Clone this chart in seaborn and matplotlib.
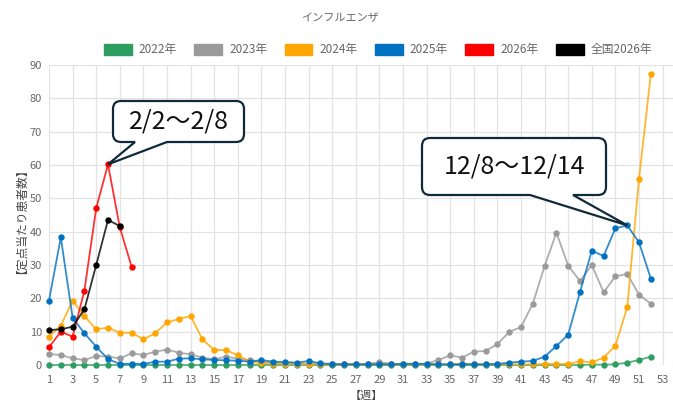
import matplotlib
matplotlib.use("Agg")
import matplotlib.pyplot as plt
import seaborn as sns
import pandas as pd
from matplotlib.path import Path
from matplotlib.patches import PathPatch, Patch
from matplotlib.colors import to_rgb

# ---------------- data ----------------
series_names = ["2022年", "2023年", "2024年", "2025年", "2026年", "全国2026年"]
series_colors = ["#2e9e60", "#9a9a9a", "#ffa500", "#0070c0", "#ff0000", "#000000"]

weeks52 = list(range(1, 53))
v2022 = [0.0] * 46 + [0.1, 0.1, 0.2, 0.7, 1.5, 2.5]
v2023 = [3.3, 3.0, 2.0, 1.5, 2.7, 2.5, 2.0, 3.5, 3.0, 4.0,
         4.6, 3.7, 3.2, 2.2, 1.7, 2.5, 1.9, 1.5, 1.0, 0.6,
         0.4, 0.3, 0.3, 0.3, 0.2, 0.2, 0.3, 0.3, 0.8, 0.4,
         0.3, 0.3, 0.4, 1.5, 2.9, 2.2, 4.0, 4.2, 6.3, 9.9,
         11.4, 18.4, 29.7, 39.7, 29.8, 25.2, 30.0, 21.8, 26.6, 27.3,
         21.1, 18.4]
v2024 = [8.5, 11.8, 19.3, 14.7, 10.7, 11.2, 9.7, 9.7, 7.7, 9.5,
         12.8, 13.8, 14.7, 7.7, 4.5, 4.5, 2.9, 1.0, 0.5, 0.4,
         0.4, 0.4, 0.3, 0.2, 0.2, 0.2, 0.2, 0.2, 0.2, 0.2,
         0.2, 0.2, 0.2, 0.2, 0.3, 0.4, 0.3, 0.2, 0.2, 0.2,
         0.2, 0.2, 0.3, 0.3, 0.3, 1.1, 0.8, 2.2, 5.8, 17.3,
         55.8, 87.3]
v2025 = [19.3, 38.3, 14.2, 9.5, 5.5, 1.8, 0.3, 0.4, 0.3, 1.0,
         1.0, 1.9, 2.0, 1.7, 1.5, 1.4, 1.3, 1.0, 1.5, 1.0,
         0.9, 0.7, 1.2, 0.5, 0.3, 0.2, 0.2, 0.2, 0.2, 0.2,
         0.3, 0.4, 0.3, 0.2, 0.2, 0.2, 0.2, 0.2, 0.3, 0.7,
         1.0, 1.2, 2.5, 5.7, 9.1, 21.9, 34.3, 32.7, 41.0, 41.9,
         36.8, 25.9]
weeks2026 = list(range(1, 9))
v2026 = [5.3, 10.0, 8.5, 22.3, 47.0, 60.2, 41.3, 29.5]
weeks_nat = list(range(1, 8))
v_nat = [10.5, 10.7, 11.5, 16.7, 30.0, 43.5, 41.7]

x_ticks = list(range(1, 54, 2))
y_ticks = list(range(0, 91, 10))

callout1_text = "2/2〜2/8"
callout1_week, callout1_series = 6, v2026
callout2_text = "12/8〜12/14"
callout2_week, callout2_series = 50, v2025

# ---------------- frame ----------------
frames = []
for name, wk, vals in [
    ("2022年", weeks52, v2022), ("2023年", weeks52, v2023),
    ("2024年", weeks52, v2024), ("2025年", weeks52, v2025),
    ("2026年", weeks2026, v2026), ("全国2026年", weeks_nat, v_nat),
]:
    frames.append(pd.DataFrame({"week": wk, "value": vals, "series": name}))
df = pd.concat(frames, ignore_index=True)

sns.set_theme(style="white")
plt.rcParams["font.family"] = ["Noto Sans CJK JP", "DejaVu Sans"]

W, H = 673, 405
fig = plt.figure(figsize=(W / 100, H / 100), dpi=100)
ax = fig.add_axes([49 / W, (H - 365) / H, (W - 49) / W, 300 / H])

palette = dict(zip(series_names, series_colors))
sns.lineplot(data=df, x="week", y="value", hue="series",
             hue_order=series_names, palette=palette,
             marker="o", markersize=4.6, markeredgewidth=0, linewidth=1.3,
             errorbar=None, legend=False, ax=ax)

for ln in ax.lines:
    rgb = to_rgb(ln.get_color())
    ln.set_color((*rgb, 0.8))
    ln.set_markerfacecolor(rgb)
    ln.set_markeredgecolor(rgb)
    ln.set_clip_on(False)

ax.set_xlim(1, 53.88)
ax.set_ylim(0, 90)
ax.set_xticks(x_ticks)
ax.set_yticks(y_ticks)
ax.grid(True, color="#e3e3e3", linewidth=0.9)
ax.set_axisbelow(True)
for s in ax.spines.values():
    s.set_visible(False)
ax.tick_params(axis="both", labelsize=8, labelcolor="#666666", length=0)
ax.tick_params(axis="x", pad=7)
ax.tick_params(axis="y", pad=5)
ax.set_xlabel("")
ax.set_ylabel("")

fig.text(340 / W, 1 - 18 / H, "インフルエンザ", ha="center", va="center",
         fontsize=8, color="#666666")
fig.text(366 / W, 1 - 396 / H, "【週】", ha="center", va="center",
         fontsize=8, color="#444444")
fig.text(15 / W, 1 - 215 / H, "【定点当たり患者数】", ha="center", va="center",
         rotation=90, fontsize=8.5, color="#444444")

handles = [Patch(facecolor=c, edgecolor=c) for c in series_colors]
fig.legend(handles, series_names, loc="center",
           bbox_to_anchor=(378 / W, 1 - 50 / H), ncol=6, frameon=False,
           fontsize=8.5, handlelength=2.37, handleheight=1.0,
           handletextpad=0.6, columnspacing=1.45, labelcolor="#666666")


def to_fig(x, y):
    return (x / W, 1 - y / H)


def bubble(L, T, R, B, bx1, bx2, tip, text, r=8):
    pts = [
        ((L + r, T), Path.MOVETO),
        ((R - r, T), Path.LINETO),
        ((R, T), Path.CURVE3), ((R, T + r), Path.CURVE3),
        ((R, B - r), Path.LINETO),
        ((R, B), Path.CURVE3), ((R - r, B), Path.CURVE3),
        ((bx2, B), Path.LINETO),
        (tip, Path.LINETO),
        ((bx1, B), Path.LINETO),
        ((L + r, B), Path.LINETO),
        ((L, B), Path.CURVE3), ((L, B - r), Path.CURVE3),
        ((L, T + r), Path.LINETO),
        ((L, T), Path.CURVE3), ((L + r, T), Path.CURVE3),
        ((L + r, T), Path.CLOSEPOLY),
    ]
    verts = [to_fig(*p) for p, _ in pts]
    codes = [c for _, c in pts]
    patch = PathPatch(Path(verts, codes), facecolor="white",
                      edgecolor="#0f2a3a", linewidth=1.6,
                      transform=fig.transFigure, zorder=5)
    fig.patches.append(patch)
    fig.text(*to_fig((L + R) / 2, (T + B) / 2), text, ha="center",
             va="center", fontsize=18, color="#111111", zorder=6)


def tip_of(week, series):
    xd, yd = ax.transData.transform((week, series[week - 1]))
    return (xd, H - yd)


bubble(113, 101, 244, 142, 135, 167, tip_of(callout1_week, callout1_series),
       callout1_text)
bubble(422, 138, 606, 195, 530, 573, tip_of(callout2_week, callout2_series),
       callout2_text)

fig.savefig("out.png", dpi=100)
